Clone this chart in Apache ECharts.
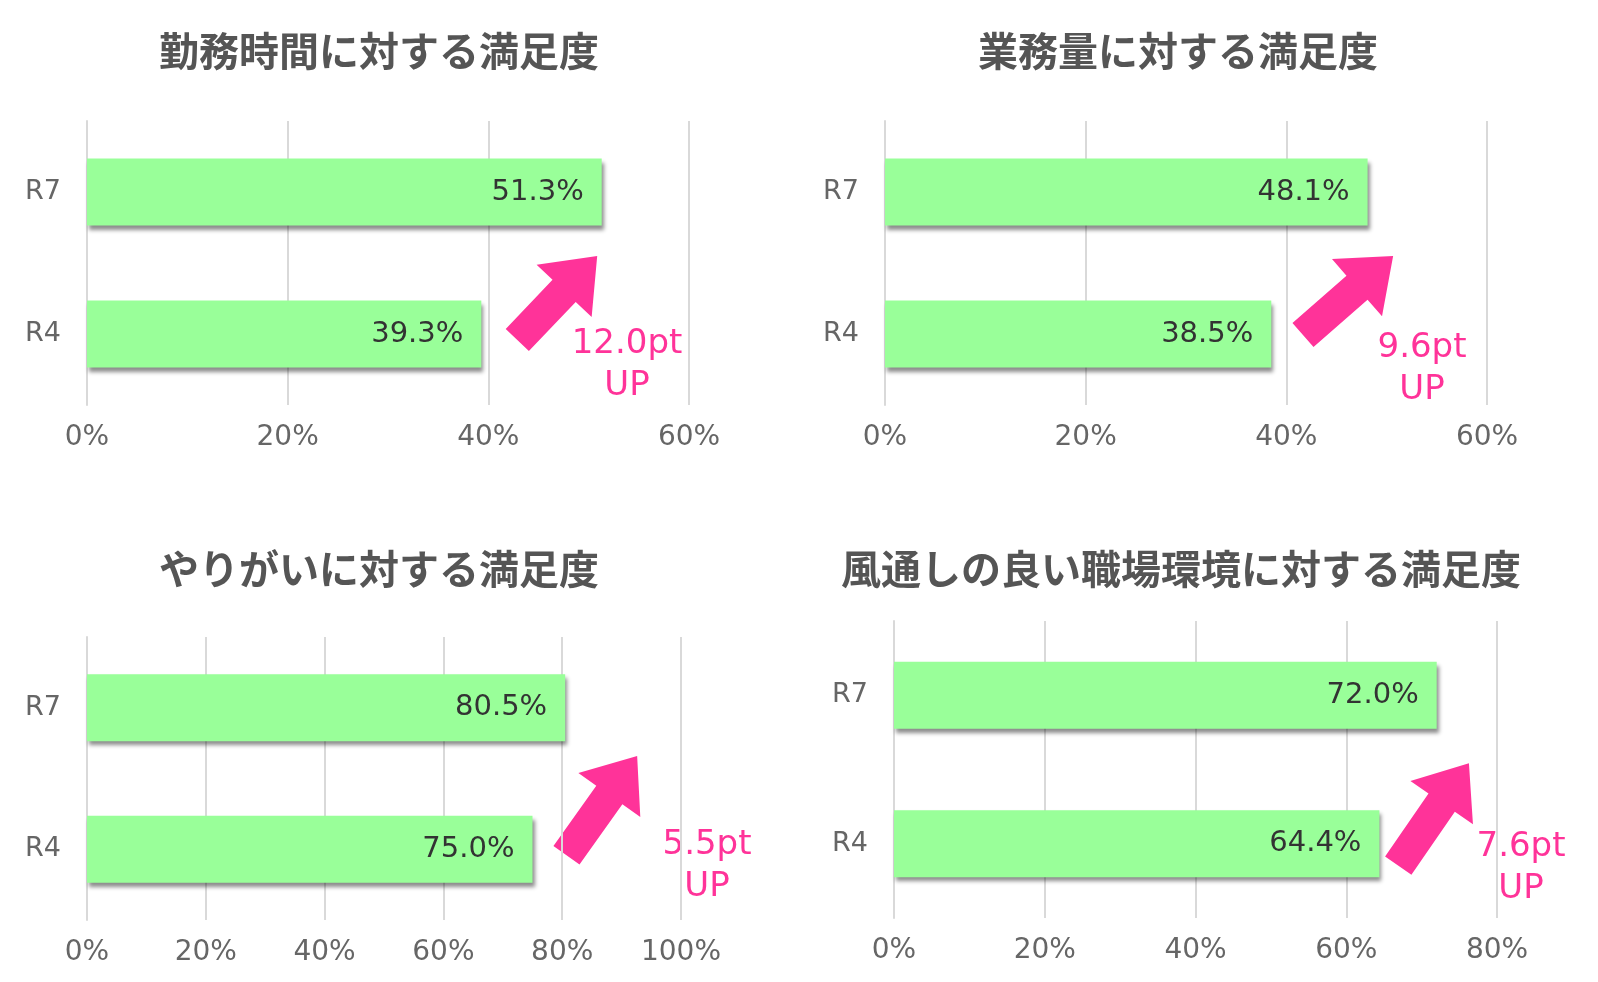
<!DOCTYPE html>
<html><head><meta charset="utf-8">
<script src="https://cdn.jsdelivr.net/npm/echarts@6/dist/echarts.min.js"></script>
<style>html,body{margin:0;background:#fff}#c{width:1598px;height:982px}</style>
</head><body><div id="c"></div>
<script>
var titles = ['勤務時間に対する満足度', '業務量に対する満足度', 'やりがいに対する満足度', '風通しの良い職場環境に対する満足度'];
var categories = ['R4', 'R7'];
var values = [[39.3, 51.3], [38.5, 48.1], [75.0, 80.5], [64.4, 72.0]];
var axisMax = [60, 60, 100, 80];
var gains = ['12.0pt\nUP', '9.6pt\nUP', '5.5pt\nUP', '7.6pt\nUP'];

var S = 1598 / 1560;
function s(v) { return Math.round(v * S); }
var font = '"Noto Sans CJK JP", sans-serif';
var numFont = '"DejaVu Sans", "Noto Sans CJK JP", sans-serif';
var pink = '#FF3399';
var grids = [
  { left: s(85), width: s(588), top: s(118), height: s(277) },
  { left: s(864), width: s(588), top: s(118), height: s(277) },
  { left: s(85), width: s(580), top: s(622), height: s(276) },
  { left: s(873), width: s(589), top: s(606), height: s(290) }
];
var titlePos = [[370, 50], [1150, 50], [370, 555], [1153, 555]];
var arrows = [[[505, 332], [583, 250]], [[1272, 327], [1360, 250]], [[553, 835], [622, 738]], [[1365, 845], [1434, 745]]];
var gainPos = [[612, 356], [1388, 360], [690, 845], [1485, 847]];

function arrowPts(t, h) {
  t = [t[0] * S, t[1] * S]; h = [h[0] * S, h[1] * S];
  var dx = h[0] - t[0], dy = h[1] - t[1], L = Math.sqrt(dx * dx + dy * dy);
  var ux = dx / L, uy = dy / L, px = -uy, py = ux;
  var sw = 16, hw = 38, hl = 48;
  var b = [h[0] - ux * hl, h[1] - uy * hl];
  return [
    [t[0] + px * sw, t[1] + py * sw], [b[0] + px * sw, b[1] + py * sw], [b[0] + px * hw, b[1] + py * hw],
    h, [b[0] - px * hw, b[1] - py * hw], [b[0] - px * sw, b[1] - py * sw], [t[0] - px * sw, t[1] - py * sw]
  ];
}

var graphic = [];
for (var i = 0; i < 4; i++) {
  graphic.push({ type: 'text', x: s(titlePos[i][0]), y: s(titlePos[i][1]),
    style: { text: titles[i], font: 'bold 40px ' + font, fill: '#555', align: 'center', verticalAlign: 'middle' } });
  graphic.push({ type: 'polygon', shape: { points: arrowPts(arrows[i][0], arrows[i][1]) }, style: { fill: pink } });
  graphic.push({ type: 'text', x: s(gainPos[i][0]), y: s(gainPos[i][1]),
    style: { text: gains[i], font: '34px ' + numFont, fill: pink, align: 'center', verticalAlign: 'middle', lineHeight: 42 } });
}

var chart = echarts.init(document.getElementById('c'));
chart.setOption({
  animation: false,
  grid: grids,
  graphic: graphic,
  xAxis: grids.map(function (g, i) {
    return { type: 'value', gridIndex: i, min: 0, max: axisMax[i], interval: 20,
      axisLabel: { formatter: '{value}%', color: '#666', fontSize: 28, margin: 19, fontFamily: numFont },
      axisLine: { show: false }, axisTick: { show: false },
      splitLine: { lineStyle: { color: '#d9d9d9', width: 2 } } };
  }),
  yAxis: grids.map(function (g, i) {
    return { type: 'category', gridIndex: i, data: categories,
      axisLabel: { color: '#666', fontSize: 27, margin: 26, fontFamily: numFont },
      axisTick: { show: false }, axisLine: { lineStyle: { color: '#d9d9d9', width: 2 } } };
  }),
  series: values.map(function (v, i) {
    return { type: 'bar', xAxisIndex: i, yAxisIndex: i, data: v, barWidth: s(65),
      itemStyle: { color: '#99FF99', shadowColor: 'rgba(0,0,0,0.45)', shadowBlur: 4, shadowOffsetX: 2, shadowOffsetY: 4 },
      label: { show: true, position: 'insideRight', color: '#333', fontSize: 29, distance: 18, fontFamily: numFont,
        formatter: function (p) { return p.value.toFixed(1) + '%'; } } };
  })
});
</script></body></html>
